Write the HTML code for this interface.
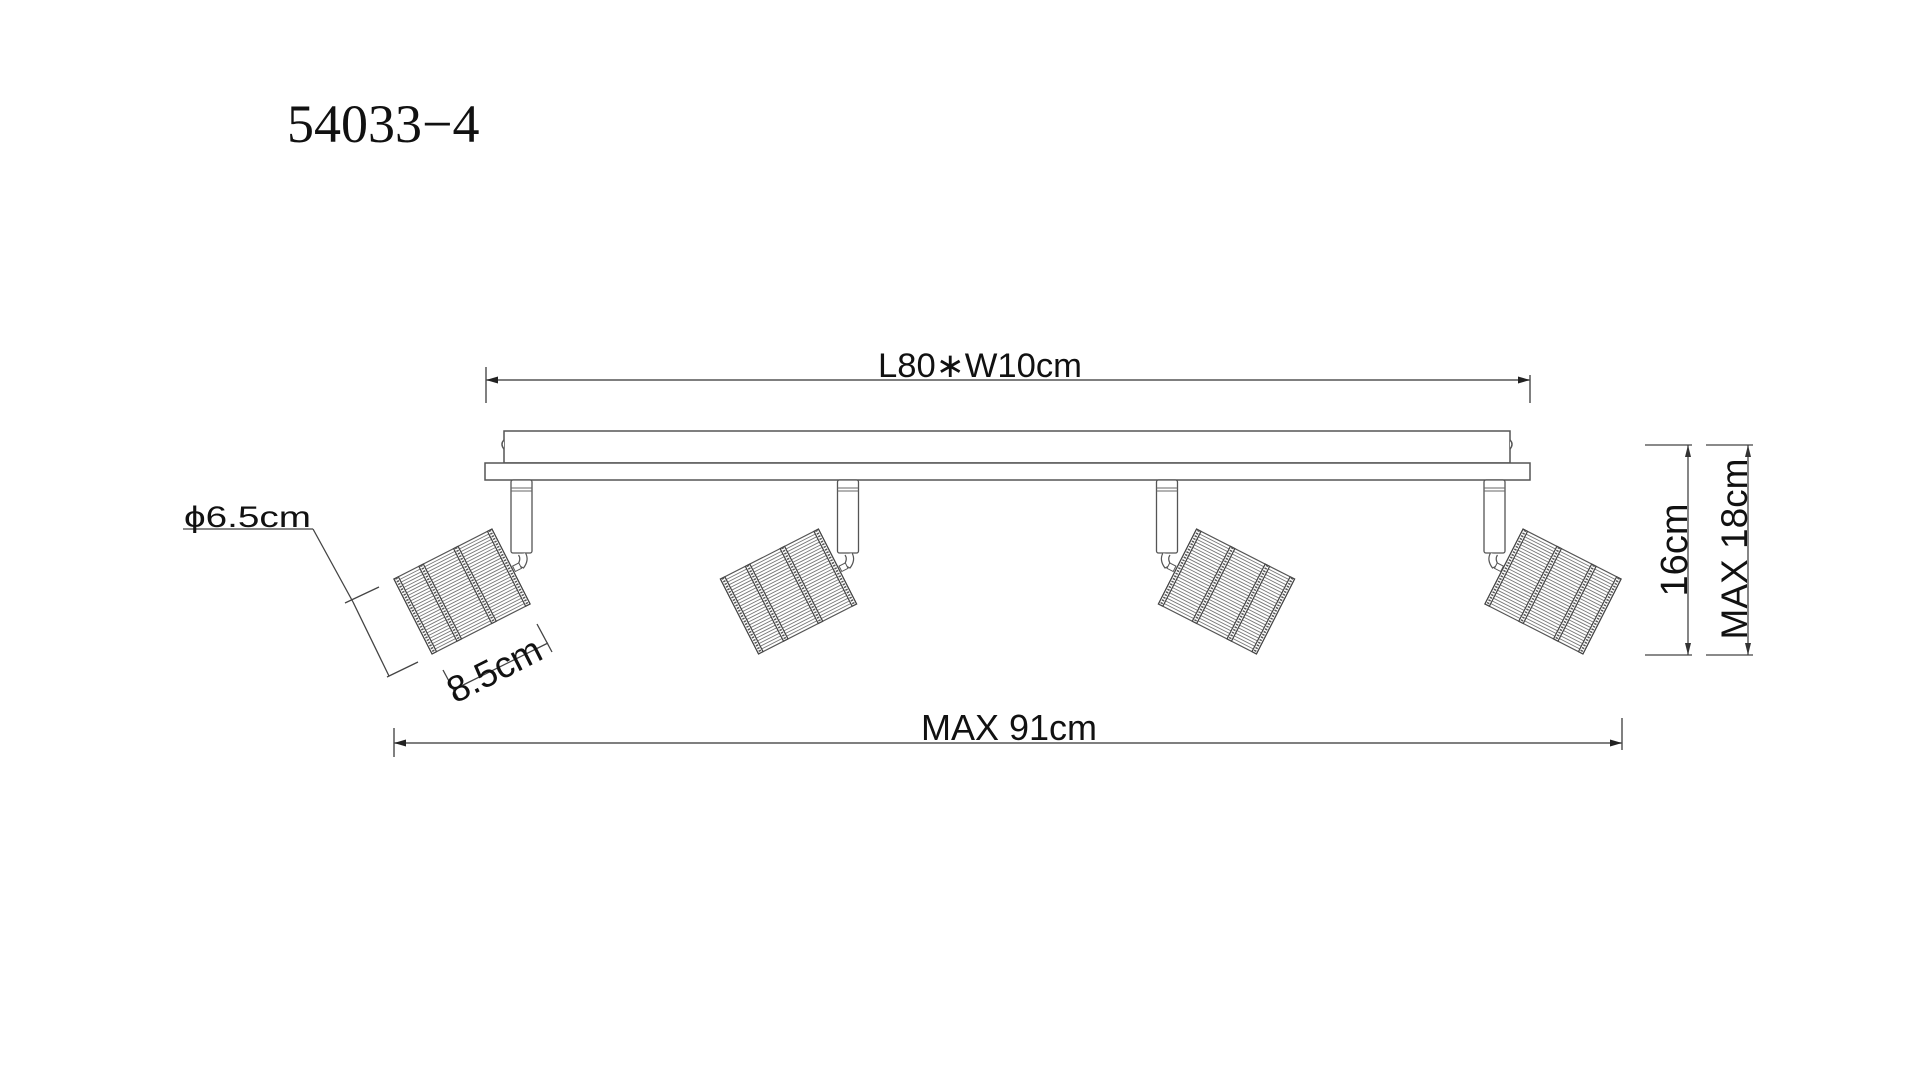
<!DOCTYPE html>
<html><head><meta charset="utf-8"><style>
html,body{margin:0;padding:0;background:#fff;}
svg{display:block;}
text{font-family:"Liberation Sans",sans-serif;fill:#111;}
</style></head><body>
<svg width="1920" height="1077" viewBox="0 0 1920 1077" xmlns="http://www.w3.org/2000/svg">
<defs>
  <g id="shade">
    <rect x="-55" y="-42" width="110" height="84" fill="#fff" stroke="#555" stroke-width="1.2"/>
    <g stroke="#777" stroke-width="0.9">
      <line x1="-55" y1="-39" x2="55" y2="-39"/><line x1="-55" y1="-36" x2="55" y2="-36"/>
      <line x1="-55" y1="-33" x2="55" y2="-33"/><line x1="-55" y1="-30" x2="55" y2="-30"/>
      <line x1="-55" y1="-27" x2="55" y2="-27"/><line x1="-55" y1="-24" x2="55" y2="-24"/>
      <line x1="-55" y1="-21" x2="55" y2="-21"/><line x1="-55" y1="-18" x2="55" y2="-18"/>
      <line x1="-55" y1="-15" x2="55" y2="-15"/><line x1="-55" y1="-12" x2="55" y2="-12"/>
      <line x1="-55" y1="-9" x2="55" y2="-9"/><line x1="-55" y1="-6" x2="55" y2="-6"/>
      <line x1="-55" y1="-3" x2="55" y2="-3"/><line x1="-55" y1="0" x2="55" y2="0"/>
      <line x1="-55" y1="3" x2="55" y2="3"/><line x1="-55" y1="6" x2="55" y2="6"/>
      <line x1="-55" y1="9" x2="55" y2="9"/><line x1="-55" y1="12" x2="55" y2="12"/>
      <line x1="-55" y1="15" x2="55" y2="15"/><line x1="-55" y1="18" x2="55" y2="18"/>
      <line x1="-55" y1="21" x2="55" y2="21"/><line x1="-55" y1="24" x2="55" y2="24"/>
      <line x1="-55" y1="27" x2="55" y2="27"/><line x1="-55" y1="30" x2="55" y2="30"/>
      <line x1="-55" y1="33" x2="55" y2="33"/><line x1="-55" y1="36" x2="55" y2="36"/>
      <line x1="-55" y1="39" x2="55" y2="39"/>
    </g>
    <g fill="#fff" stroke="#444" stroke-width="1.2">
      <rect x="-55" y="-42" width="5" height="84"/>
      <rect x="-27" y="-42" width="5" height="84"/>
      <rect x="12" y="-42" width="5" height="84"/>
      <rect x="50" y="-42" width="5" height="84"/>
    </g>
    <g stroke="#555" stroke-width="2.5" stroke-dasharray="1.5 1.5">
      <line x1="-52.5" y1="-42" x2="-52.5" y2="42"/>
      <line x1="-24.5" y1="-42" x2="-24.5" y2="42"/>
      <line x1="14.5" y1="-42" x2="14.5" y2="42"/>
      <line x1="52.5" y1="-42" x2="52.5" y2="42"/>
    </g>
  </g>
  <g id="stem">
    <rect x="-10.5" y="0" width="21" height="73" rx="2" fill="#fff" stroke="#555" stroke-width="1.3"/>
    <line x1="-10.5" y1="8" x2="10.5" y2="8" stroke="#666" stroke-width="1"/>
    <line x1="-10.5" y1="11" x2="10.5" y2="11" stroke="#666" stroke-width="1"/>
    <path d="M4 73 Q8 80 2 88 L-4 85 Q0 79 -3 75" fill="#fff" stroke="#555" stroke-width="1.2"/>
    <rect x="-8" y="84" width="7" height="6" fill="#fff" stroke="#555" stroke-width="1" transform="rotate(-27 -4 87)"/>
  </g>
</defs>

<text x="287" y="142" style="font-family:'Liberation Serif',serif;font-size:54px;">54033−4</text>

<g stroke="#555" stroke-width="1.5">
  <line x1="486" y1="380" x2="1530" y2="380"/>
  <line x1="486" y1="367" x2="486" y2="403"/>
  <line x1="1530" y1="375" x2="1530" y2="403"/>
</g>
<path d="M486 380 l12 -3.5 v7z M1530 380 l-12 -3.5 v7z" fill="#222"/>
<text x="980" y="377" text-anchor="middle" font-size="34" textLength="204" lengthAdjust="spacingAndGlyphs">L80∗W10cm</text>

<g fill="#fff" stroke="#555" stroke-width="1.5">
  <rect x="504" y="431" width="1006" height="32"/>
  <rect x="485" y="463" width="1045" height="17"/>
  <path d="M504 440 q-4 4 0 9" /><path d="M1510 440 q4 4 0 9"/>
</g>

<use href="#stem" transform="translate(521.5,480)"/>
<use href="#stem" transform="translate(848,480)"/>
<use href="#stem" transform="translate(1167,480) scale(-1,1)"/>
<use href="#stem" transform="translate(1494.5,480) scale(-1,1)"/>

<use href="#shade" transform="translate(462,591.5) rotate(-27)"/>
<use href="#shade" transform="translate(788.5,591.5) rotate(-27)"/>
<use href="#shade" transform="translate(1226.5,591.5) scale(-1,1) rotate(-27)"/>
<use href="#shade" transform="translate(1553,591.5) scale(-1,1) rotate(-27)"/>

<g stroke="#444" stroke-width="1.3" fill="none">
  <line x1="183" y1="529" x2="313" y2="529"/>
  <line x1="313" y1="529" x2="353" y2="602"/>
  <line x1="353" y1="602" x2="389" y2="676"/>
  <line x1="345" y1="603" x2="379" y2="587"/>
  <line x1="387" y1="677" x2="418" y2="662"/>
</g>
<text x="184" y="527" font-size="30" textLength="127" lengthAdjust="spacingAndGlyphs">ϕ6.5cm</text>

<g stroke="#444" stroke-width="1.3">
  <line x1="453" y1="690" x2="548" y2="643"/>
  <line x1="443" y1="670" x2="458" y2="698"/>
  <line x1="537" y1="624" x2="552" y2="652"/>
</g>
<text font-size="37" text-anchor="middle" transform="translate(500,681) rotate(-27)">8.5cm</text>

<g stroke="#555" stroke-width="1.5">
  <line x1="394" y1="743" x2="1622" y2="743"/>
  <line x1="394" y1="728" x2="394" y2="757"/>
  <line x1="1622" y1="718" x2="1622" y2="750"/>
</g>
<path d="M394 743 l12 -3.5 v7z M1622 743 l-12 -3.5 v7z" fill="#222"/>
<text x="1009" y="740" text-anchor="middle" font-size="36">MAX 91cm</text>

<g stroke="#444" stroke-width="1.3">
  <line x1="1645" y1="445" x2="1692" y2="445"/>
  <line x1="1645" y1="655" x2="1692" y2="655"/>
  <line x1="1688" y1="445" x2="1688" y2="655"/>
  <line x1="1706" y1="445" x2="1753" y2="445"/>
  <line x1="1706" y1="655" x2="1753" y2="655"/>
  <line x1="1748" y1="445" x2="1748" y2="655"/>
</g>
<path d="M1688 445 l-3 12 h6z M1688 655 l-3 -12 h6z M1748 445 l-3 12 h6z M1748 655 l-3 -12 h6z" fill="#333"/>
<text font-size="38" text-anchor="middle" transform="translate(1687,550) rotate(-90)">16cm</text>
<text font-size="37" text-anchor="middle" transform="translate(1747,549) rotate(-90)">MAX 18cm</text>
</svg>
</body></html>
